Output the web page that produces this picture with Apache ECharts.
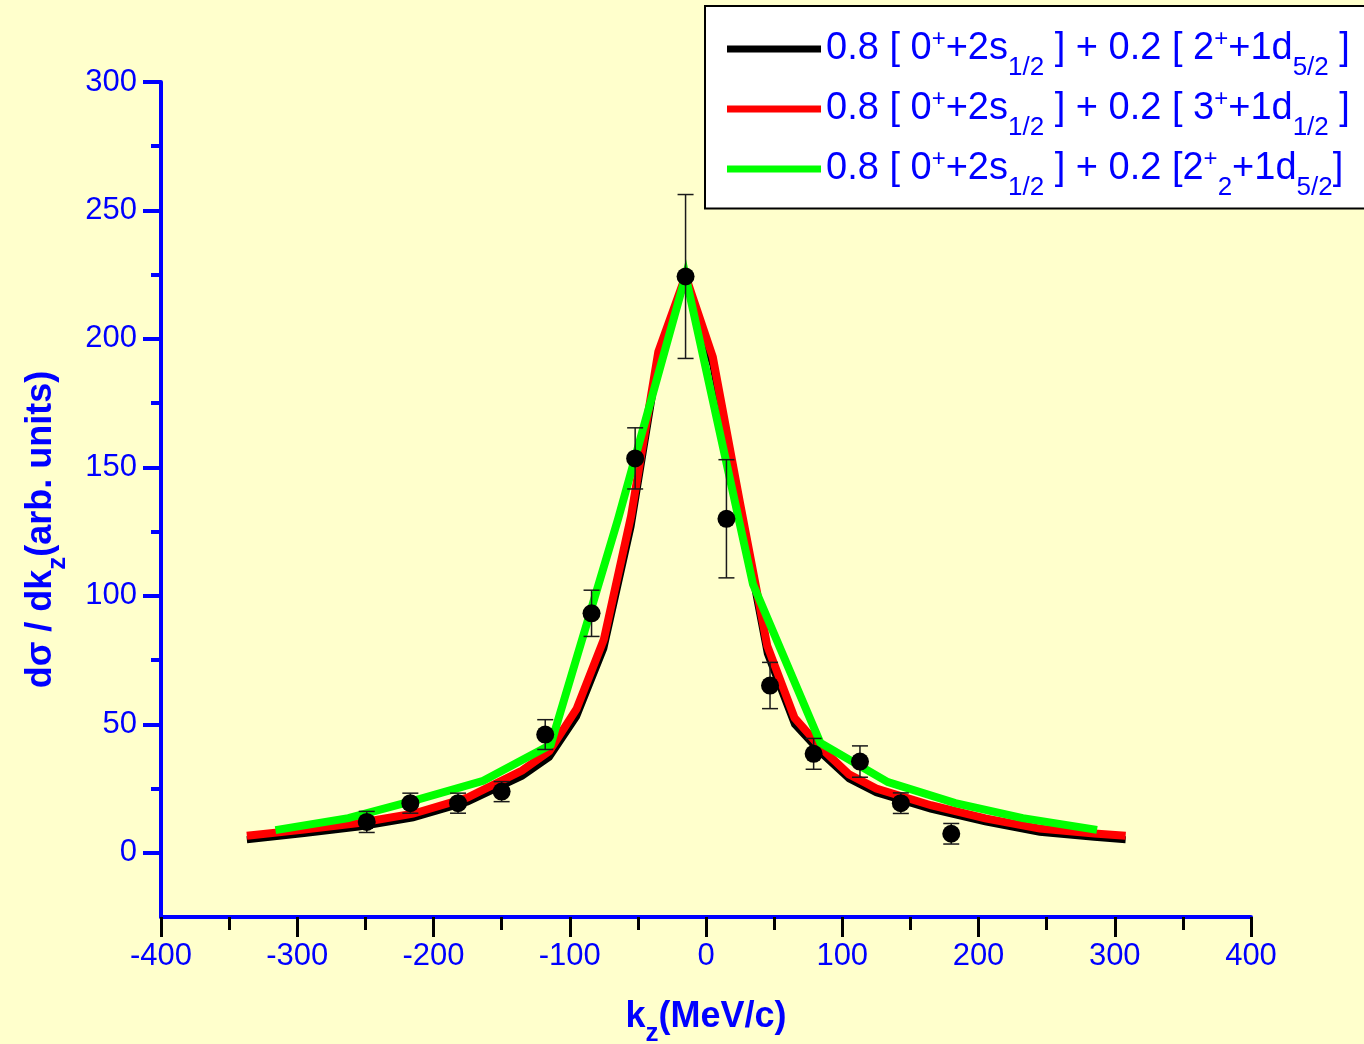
<!DOCTYPE html>
<html>
<head>
<meta charset="utf-8">
<script src="https://cdn.jsdelivr.net/npm/echarts@6/dist/echarts.min.js"></script>
<style>
  html, body { margin: 0; padding: 0; background: #FFFFCC; }
  #chart { width: 1364px; height: 1044px; }
</style>
</head>
<body>
<div id="chart"></div>
<script>
// ---- data ----
const expKz  = [-249, -217, -182, -150, -118, -84, -52, -15, 15, 47, 79, 113, 143, 180];
const expVal = [12.0, 19.3, 19.3, 23.8, 46.0, 93.2, 153.5, 224.3, 130.0, 65.1, 38.5, 35.5, 19.3, 7.4];
const expErr = [4.1, 3.9, 3.9, 3.9, 5.8, 9.0, 11.9, 31.9, 23.0, 9.0, 6.0, 6.1, 4.0, 4.0];

const redKz   = [-337, -295, -255, -215, -175, -135, -115, -95, -75, -55, -35, -15, 5, 25, 45, 65, 85, 105, 125, 165, 205, 245, 285, 308];
const redVal  = [6.6, 9.0, 11.6, 15.2, 21.5, 32, 39.5, 56, 83, 131, 195, 224.5, 193, 136, 80.5, 52.5, 40.5, 30.5, 25, 18.5, 13.4, 9.4, 7.5, 6.6];
const blackKz = [-337, -295, -255, -215, -175, -135, -115, -95, -75, -55, -35, -15, 5, 25, 45, 65, 85, 105, 125, 165, 205, 245, 285, 308];
const blackVal= [5.1, 7.5, 10.0, 13.6, 19.8, 29.8, 37.2, 53, 79.5, 127, 192, 223.5, 190, 133, 77.5, 50, 38.5, 28.8, 23.4, 17.0, 12.0, 8.0, 6.0, 5.1];
const greenKz = [-316, -262.5, -213, -163.5, -114, -64.5, -15, 34.5, 84, 133.5, 183, 232.5, 287];
const greenVal= [8.8, 13.5, 20.5, 28, 42, 130, 224.5, 104.5, 42.7, 27.5, 19.3, 13.5, 8.9];

const seriesNames = [
  '0.8 [ 0+ +2s1/2 ] + 0.2 [ 2+ +1d5/2 ]',
  '0.8 [ 0+ +2s1/2 ] + 0.2 [ 3+ +1d1/2 ]',
  '0.8 [ 0+ +2s1/2 ] + 0.2 [2+2 +1d5/2]'
];
const legendRich = [
  '0.8 [ 0{sup|+}+2s{sub|1/2} ] + 0.2 [ 2{sup|+}+1d{sub|5/2} ]',
  '0.8 [ 0{sup|+}+2s{sub|1/2} ] + 0.2 [ 3{sup|+}+1d{sub|1/2} ]',
  '0.8 [ 0{sup|+}+2s{sub|1/2} ] + 0.2 [2{sup|+}{sub|2}+1d{sub|5/2}]'
];
const xTicks = [-400, -300, -200, -100, 0, 100, 200, 300, 400];
const yMajor = [0, 50, 100, 150, 200, 250, 300];
const yMinor = [25, 75, 125, 175, 225, 275];
const xTitle = 'k{sub|z}(MeV/c)';
const yTitle = 'dσ / dk{sub|z}(arb. units)';

// ---- build ----
const FONT = "'Liberation Sans', Arial, sans-serif";
const BLUE = '#0000FF';
const zip = (a, b) => a.map((v, i) => [v, b[i]]);

const chart = echarts.init(document.getElementById('chart'), null, { renderer: 'canvas' });

function lineSeries(name, kz, val, color, width, z) {
  return {
    name, type: 'line', data: zip(kz, val), showSymbol: false, symbol: 'none',
    lineStyle: { color, width, join: 'miter', miterLimit: 10, cap: 'butt' },
    itemStyle: { color }, z, animation: false, silent: true
  };
}

const option = {
  backgroundColor: '#FFFFCC',
  animation: false,
  grid: { left: 161, right: 113, top: 82, bottom: 127, containLabel: false, outerBoundsMode: 'none' },
  legend: {
    left: 705, top: 6, orient: 'vertical',
    backgroundColor: '#FFFFFF', borderColor: '#000000', borderWidth: 2, borderRadius: 0,
    padding: [19, 16, 8, 22],
    itemWidth: 94, itemHeight: 7, itemGap: 4.5, icon: 'rect',
    selectedMode: false,
    data: seriesNames,
    formatter: name => legendRich[seriesNames.indexOf(name)],
    textStyle: {
      fontFamily: FONT, fontSize: 38, lineHeight: 48, color: BLUE,
      rich: {
        sup: { fontFamily: FONT, fontSize: 24, height: 28, lineHeight: 28, verticalAlign: 'top', color: BLUE },
        sub: { fontFamily: FONT, fontSize: 26, height: 11, lineHeight: 11, verticalAlign: 'bottom', color: BLUE }
      }
    }
  },
  xAxis: {
    type: 'value', min: -400, max: 400, interval: 100,
    axisLine: { show: true, onZero: false, lineStyle: { color: BLUE, width: 4 } },
    axisTick: { show: true, inside: false, length: 20, lineStyle: { color: '#000', width: 3 } },
    minorTick: { show: true, splitNumber: 2, length: 13, lineStyle: { color: '#000', width: 3 } },
    splitLine: { show: false },
    axisLabel: { color: BLUE, fontFamily: FONT, fontSize: 31, margin: 24 },
    name: xTitle, nameLocation: 'middle', nameGap: 80,
    nameTextStyle: {
      color: BLUE, fontFamily: FONT, fontSize: 36, fontWeight: 'bold', lineHeight: 40,
      rich: { sub: { color: BLUE, fontFamily: FONT, fontSize: 26, fontWeight: 'bold', height: 6, lineHeight: 6, verticalAlign: 'bottom' } }
    }
  },
  yAxis: [{
    type: 'value', min: -25, max: 300, position: 'left',
    axisLine: { show: true, onZero: false, lineStyle: { color: BLUE, width: 4 } },
    axisTick: { show: true, inside: false, length: 18, customValues: yMajor, lineStyle: { color: BLUE, width: 4 } },
    splitLine: { show: false },
    axisLabel: { color: BLUE, fontFamily: FONT, fontSize: 31, margin: 24, customValues: yMajor },
    name: yTitle, nameLocation: 'middle', nameGap: 100, nameRotate: 90,
    nameTextStyle: {
      color: BLUE, fontFamily: FONT, fontSize: 36, fontWeight: 'bold', lineHeight: 40,
      padding: [0, 60, 0, 0],
      rich: { sub: { color: BLUE, fontFamily: FONT, fontSize: 26, fontWeight: 'bold', height: 6, lineHeight: 6, verticalAlign: 'bottom' } }
    }
  }, {
    type: 'value', min: -25, max: 300, position: 'left', offset: 0,
    axisLine: { show: false, onZero: false },
    axisTick: { show: true, inside: false, length: 10, customValues: yMinor, lineStyle: { color: BLUE, width: 4 } },
    axisLabel: { show: false },
    splitLine: { show: false }
  }],
  series: [
    lineSeries(seriesNames[0], blackKz, blackVal, '#000000', 7, 2),
    lineSeries(seriesNames[1], redKz, redVal, '#FF0000', 8, 3),
    lineSeries(seriesNames[2], greenKz, greenVal, '#00FF00', 8, 4),
    {
      type: 'custom', name: 'errors', z: 5, silent: true,
      data: expKz.map((k, i) => [k, expVal[i], expErr[i]]),
      encode: { x: 0, y: 1 },
      renderItem: (params, api) => {
        const x = api.value(0), y = api.value(1), e = api.value(2);
        const t = api.coord([x, y + e]), b = api.coord([x, y - e]);
        const hw = 8, st = { stroke: '#1a1a1a', lineWidth: 1.5 };
        return { type: 'group', children: [
          { type: 'line', shape: { x1: t[0], y1: t[1], x2: b[0], y2: b[1] }, style: st },
          { type: 'line', shape: { x1: t[0] - hw, y1: t[1], x2: t[0] + hw, y2: t[1] }, style: st },
          { type: 'line', shape: { x1: b[0] - hw, y1: b[1], x2: b[0] + hw, y2: b[1] }, style: st }
        ]};
      }
    },
    {
      type: 'scatter', name: 'data', z: 6, silent: true,
      data: zip(expKz, expVal), symbol: 'circle', symbolSize: 18,
      itemStyle: { color: '#000000', opacity: 1 }
    }
  ]
};
chart.setOption(option);
</script>
</body>
</html>
